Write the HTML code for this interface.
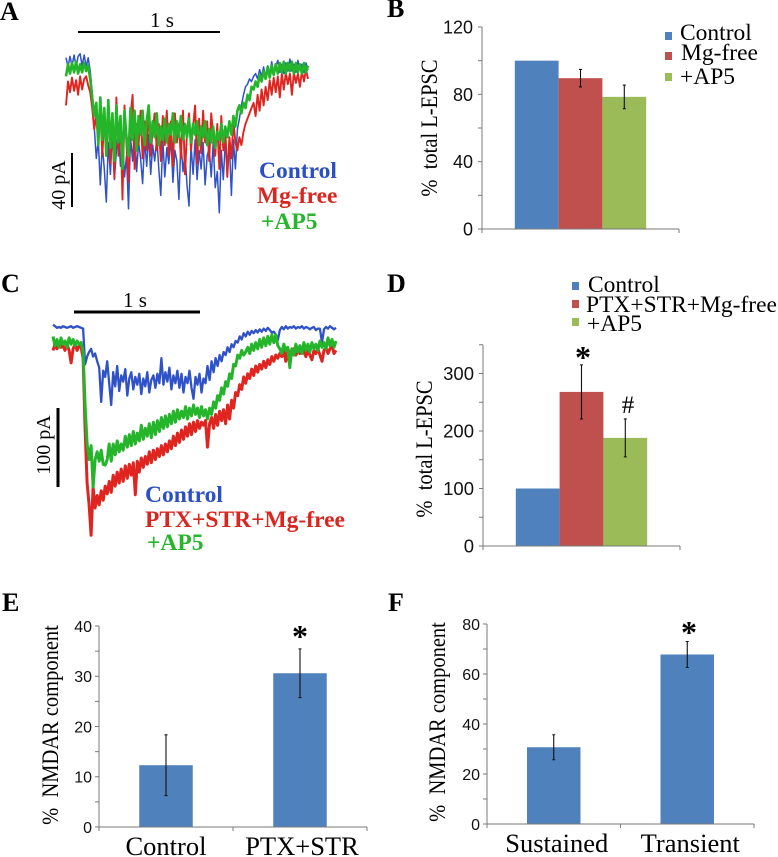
<!DOCTYPE html>
<html lang="en">
<head>
<meta charset="utf-8">
<title>L-EPSC traces and bar charts</title>
<style>
html,body{margin:0;padding:0;background:#fff;width:778px;height:857px;overflow:hidden}
svg{display:block;filter:blur(.35px)}
text{font-family:"Liberation Serif",serif;fill:#000}
.panel{font-weight:bold;font-size:26px}
.tick{font-family:"Liberation Sans",sans-serif;fill:#111}
.tr{font-weight:bold;font-size:23.5px}
.blue{fill:#2c50c4}.red{fill:#d9261f}.green{fill:#27b52c}
.scale{font-size:20px}
.mid{text-anchor:middle}
.star{font-weight:bold}
</style>
</head>
<body>
<svg id="figure" width="778" height="857" viewBox="0 0 778 857" xmlns="http://www.w3.org/2000/svg">
<text class="panel" x="0" y="20">A</text>
<text class="panel" x="387" y="17">B</text>
<text class="panel" x="1" y="292">C</text>
<text class="panel" x="387" y="292">D</text>
<text class="panel" x="2" y="611">E</text>
<text class="panel" x="388" y="611">F</text>

<g id="panel-a"></g>
<line x1="78" x2="220" y1="32" y2="32" stroke="#000" stroke-width="2"/>
<text class="mid" x="162" y="27" font-size="21">1 s</text>
<line x1="72" x2="72" y1="153" y2="207" stroke="#000" stroke-width="2"/>
<text class="scale mid" transform="translate(65 185) rotate(-90)" font-size="20.5">40 pA</text>
<text class="tr blue" x="259" y="178">Control</text>
<text class="tr red" x="257" y="203">Mg-free</text>
<text class="tr green" x="261" y="229">+AP5</text>

<g id="panel-c"></g>
<line x1="74" x2="200" y1="312" y2="312" stroke="#000" stroke-width="3"/>
<text class="mid" x="135" y="307" font-size="21">1 s</text>
<line x1="58" x2="58" y1="408" y2="487" stroke="#000" stroke-width="3"/>
<text class="scale mid" transform="translate(50 445) rotate(-90)">100 pA</text>
<text class="tr blue" x="145" y="502">Control</text>
<text class="tr red" x="145" y="527">PTX+STR+Mg-free</text>
<text class="tr green" x="147" y="550">+AP5</text>

<g id="chart-b"></g>
<g id="chart-d"></g>
<g id="chart-e"></g>
<g id="chart-f"></g>

<text class="mid" transform="translate(437 128) rotate(-90) scale(1 1.12)" font-size="20.5">% &#160;total L-EPSC</text>
<text class="mid" transform="translate(432 449) rotate(-90) scale(1 1.12)" font-size="20.5">% &#160;total L-EPSC</text>
<text class="mid" transform="translate(58 725) rotate(-90) scale(1 1.12)" font-size="20.5">% &#160;NMDAR component</text>
<text class="mid" transform="translate(445 722) rotate(-90) scale(1 1.12)" font-size="20.5">% &#160;NMDAR component</text>

<text class="mid star" x="583" y="368" font-size="32">*</text>
<text class="mid" x="628" y="413" font-size="25">#</text>
<text class="mid star" x="300" y="647" font-size="32">*</text>
<text class="mid star" x="689" y="643" font-size="32">*</text>
</svg>

<script>
// Panel A traces, pA relative to the control baseline
const aControl = [4,-3,5,-2,6,-3,5,7,-2,6,-3,4,-6,-22,-48,-72,-58,-92,-62,-80,-105,-60,-84,-52,-88,-66,-50,-78,-58,-86,-70,-110,-56,-74,-46,-82,-60,-72,-91,-58,-78,-54,-84,-62,-74,-56,-80,-100,-58,-86,-64,-76,-56,-90,-66,-74,-103,-60,-82,-68,-92,-108,-62,-84,-58,-88,-66,-80,-60,-92,-70,-64,-86,-60,-94,-82,-113,-66,-88,-60,-78,-62,-100,-58,-80,-50,-42,-32,-24,-18,-16,-12,-14,-10,-8,-12,-5,-10,-3,-11,-2,-9,1,-8,-3,2,-7,-1,-8,0,-6,3,-6,-1,-7,2,-5,-1,-7,0,-5];
const aMgFree = [-32,-14,-22,-11,-21,-13,-24,-10,-20,-12,-10,-17,-22,-34,-50,-40,-60,-34,-70,-42,-66,-30,-76,-48,-87,-26,-70,-45,-103,-32,-62,-90,-40,-24,-80,-46,-62,-36,-72,-44,-66,-34,-70,-50,-38,-66,-46,-74,-40,-62,-36,-70,-44,-78,-38,-60,-46,-72,-36,-84,-52,-38,-66,-48,-32,-76,-42,-68,-36,-60,-44,-74,-38,-54,-70,-46,-80,-40,-66,-50,-86,-56,-72,-44,-60,-66,-56,-62,-52,-46,-42,-38,-34,-30,-40,-24,-36,-20,-32,-18,-28,-13,-24,-11,-22,-10,-26,-8,-20,-7,-16,-8,-24,-7,-15,-8,-18,-6,-14,-5,-12];
const aAp5 = [-10,-1,-8,0,-7,1,-8,-1,-7,0,-6,-2,-12,-26,-40,-30,-62,-26,-58,-34,-70,-28,-64,-38,-74,-32,-60,-40,-80,-36,-56,-70,-34,-58,-36,-66,-40,-54,-36,-62,-44,-32,-60,-44,-56,-38,-62,-48,-58,-42,-60,-46,-54,-38,-60,-44,-56,-40,-58,-46,-56,-42,-60,-46,-54,-44,-62,-48,-56,-44,-62,-50,-60,-48,-64,-52,-58,-46,-60,-48,-56,-44,-54,-40,-48,-36,-32,-38,-30,-34,-24,-28,-18,-20,-14,-18,-9,-14,-6,-12,-3,-11,-2,-9,-1,-8,0,-7,1,-8,0,-6,1,-8,0,-7,-1,-8,0,-7,-2];

// Panel C traces, pA relative to the control baseline
const cControl = [3,1,-1,0,-1,1,0,-1,0,1,-1,0,1,0,-1,-2,-48,-38,-32,-28,-38,-34,-44,-52,-96,-56,-64,-44,-72,-100,-58,-76,-50,-82,-62,-70,-54,-88,-66,-58,-80,-64,-74,-60,-86,-66,-76,-58,-84,-68,-62,-78,-60,-72,-40,-74,-58,-70,-52,-80,-62,-72,-56,-78,-60,-84,-64,-72,-56,-78,-92,-64,-74,-60,-84,-66,-72,-50,-68,-44,-58,-40,-50,-36,-44,-32,-36,-26,-32,-22,-26,-18,-20,-12,-16,-8,-12,-6,-10,-5,-8,-4,-7,-3,-6,-2,-5,-1,-4,-7,-6,-10,-17,-4,0,-3,1,-2,0,-1,1,-2,0,-1,1,-2,0,-1,-3,-1,0,-4,-2,-2,-20,-3,0,-2,1,-1,-3,-1];
const cPtxMgFree = [-30,-22,-28,-20,-26,-24,-30,-22,-30,-46,-28,-22,-30,-24,-26,-40,-130,-200,-228,-267,-205,-232,-216,-228,-210,-222,-204,-214,-198,-212,-190,-204,-186,-200,-182,-198,-178,-194,-176,-190,-174,-215,-172,-186,-168,-180,-166,-176,-160,-174,-158,-170,-156,-166,-152,-164,-150,-160,-146,-156,-140,-152,-136,-148,-132,-144,-128,-140,-124,-138,-122,-134,-120,-130,-122,-126,-120,-154,-124,-116,-130,-112,-126,-108,-120,-106,-124,-100,-118,-94,-104,-84,-88,-74,-80,-64,-72,-60,-66,-54,-62,-50,-58,-48,-54,-44,-52,-42,-48,-38,-44,-36,-40,-34,-38,-30,-44,-28,-34,-32,-28,-36,-30,-34,-28,-32,-38,-30,-36,-42,-30,-34,-28,-36,-44,-30,-26,-34,-28,-24,-34,-30];
const cAp5 = [-12,-24,-16,-26,-14,-22,-18,-26,-14,-22,-16,-24,-18,-22,-20,-32,-100,-150,-170,-152,-205,-170,-160,-172,-158,-176,-177,-170,-150,-172,-150,-164,-146,-160,-150,-158,-140,-154,-138,-152,-134,-150,-136,-146,-126,-144,-130,-140,-124,-142,-122,-138,-120,-134,-116,-130,-114,-128,-112,-124,-108,-122,-106,-118,-108,-116,-102,-118,-104,-114,-100,-112,-104,-116,-102,-114,-106,-118,-104,-112,-96,-104,-88,-94,-78,-86,-70,-76,-60,-66,-48,-50,-36,-40,-30,-36,-32,-26,-34,-22,-30,-20,-28,-16,-26,-14,-24,-12,-22,-10,-20,-10,-24,-28,-34,-22,-30,-26,-52,-28,-36,-22,-32,-24,-34,-20,-30,-22,-32,-20,-28,-22,-30,-18,-26,-20,-28,-14,-24,-16,-26,-18];

// Chart B
const bSeries = ['Control','Mg-free','+AP5'];
const bValues = [100,89.6,78.5];
const bErrors = [0,5.2,7];
const bLabelTicks = [0,40,80,120];
const bAllTicks = [0,20,40,60,80,100,120];

// Chart D
const dSeries = ['Control','PTX+STR+Mg-free','+AP5'];
const dValues = [100,268,188];
const dErrors = [0,47,33];
const dLabelTicks = [0,100,200,300];
const dAllTicks = [0,50,100,150,200,250,300,350];

// Chart E
const eCategories = ['Control','PTX+STR'];
const eValues = [12.3,30.6];
const eErrors = [6.05,4.85];
const eLabelTicks = [0,10,20,30,40];
const eAllTicks = [0,5,10,15,20,25,30,35,40];

// Chart F
const fCategories = ['Sustained','Transient'];
const fValues = [30.7,67.8];
const fErrors = [5,5.2];
const fLabelTicks = [0,20,40,60,80];
const fAllTicks = [0,10,20,30,40,50,60,70,80];

const NS = 'http://www.w3.org/2000/svg';
const BAR_COLORS = ['#4f81bd','#c0504d','#9bbb59'];

function make(parent, tag, attrs, txt) {
  const el = document.createElementNS(NS, tag);
  for (const k in attrs) el.setAttribute(k, attrs[k]);
  if (txt !== undefined) el.textContent = txt;
  parent.appendChild(el);
  return el;
}

function drawTrace(parent, values, x0, x1, zeroY, pxPerPa, color, width, name) {
  const xOf = i => x0 + i / (values.length - 1) * (x1 - x0);
  const yOf = v => zeroY - v * pxPerPa;
  const d = values.map((v, i) => (i ? 'L' : 'M') + xOf(i).toFixed(1) + ' ' + yOf(v).toFixed(1)).join('');
  const p = make(parent, 'path', {d: d, fill: 'none', stroke: color, 'stroke-width': width, 'stroke-linejoin': 'round'});
  
  
}

const panelA = document.getElementById('panel-a');
drawTrace(panelA, aControl, 66, 308, 63, 1.325, '#2f52c8', 1.5, 'trace-control-a');
drawTrace(panelA, aMgFree, 66, 308, 63, 1.325, '#e0241f', 1.9, 'trace-mg-free-a');
drawTrace(panelA, aAp5, 66, 308, 63, 1.325, '#25b52b', 2.6, 'trace-ap5-a');

const panelC = document.getElementById('panel-c');
drawTrace(panelC, cControl, 53, 336, 327, 0.78, '#2f52c8', 2.3, 'trace-control-c');
drawTrace(panelC, cPtxMgFree, 53, 336, 327, 0.78, '#e0241f', 3, 'trace-ptx-c');
drawTrace(panelC, cAp5, 53, 336, 327, 0.78, '#25b52b', 3, 'trace-ap5-c');

function drawChart(o) {
  const g = document.getElementById(o.id);
  const y = v => o.y0 - v * (o.y0 - o.yTop) / o.max;
  const band = (o.x1 - o.x0) / o.groups;
  const barX = (group, series) => o.x0 + band * (group + .5) + (series - o.seriesCount / 2) * o.barW;

  o.values.forEach((v, i) => {
    const group = o.seriesCount > 1 ? 0 : i;
    const series = o.seriesCount > 1 ? i : 0;
    const left = barX(group, series);
    const color = o.seriesCount > 1 ? BAR_COLORS[i] : BAR_COLORS[0];
    const bar = make(g, 'rect', {x: left, y: y(v), width: o.barW, height: o.y0 - y(v), fill: color});
    
    
  });

  const axisY = make(g, 'line', {x1: o.x0, x2: o.x0, y1: y(o.max), y2: o.y0, stroke: '#7a7a7a', 'stroke-width': 1});
  
  
  const axisX = make(g, 'line', {x1: o.x0 - 4, x2: o.x1, y1: o.y0, y2: o.y0, stroke: '#7a7a7a', 'stroke-width': 1});
  
  

  o.allTicks.forEach(t => {
    const tick = make(g, 'line', {x1: o.x0 - 4, x2: o.x0, y1: y(t), y2: y(t), stroke: '#7a7a7a', 'stroke-width': 1});
    
    
  });
  o.labelTicks.forEach(t => {
    const lab = make(g, 'text', {class: 'tick', x: o.x0 - o.labelGap, y: y(t) + o.fs * .36, 'text-anchor': 'end', 'font-size': o.fs}, String(t));
    
    
  });
  for (let i = 0; i <= o.groups; i++) {
    const tick = make(g, 'line', {x1: o.x0 + band * i, x2: o.x0 + band * i, y1: o.y0, y2: o.y0 + 4, stroke: '#7a7a7a', 'stroke-width': 1});
    
    
  }

  o.values.forEach((v, i) => {
    if (!o.errors[i]) return;
    const group = o.seriesCount > 1 ? 0 : i;
    const series = o.seriesCount > 1 ? i : 0;
    const cx = barX(group, series) + o.barW / 2;
    const err = make(g, 'path', {
      d: 'M' + cx + ' ' + y(v + o.errors[i]) + 'V' + y(v - o.errors[i]) +
         'M' + (cx - 1.5) + ' ' + y(v + o.errors[i]) + 'h3M' + (cx - 1.5) + ' ' + y(v - o.errors[i]) + 'h3',
      fill: 'none', stroke: '#111', 'stroke-width': 1.1
    });
    
    
  });

  if (o.categories) {
    o.categories.forEach((c, i) => {
      const lab = make(g, 'text', {x: o.x0 + band * (i + .5) + o.catShift[i], y: o.catY, 'text-anchor': 'middle', 'font-size': 26.5}, c);
      
      
    });
  }

  if (o.legend) {
    o.legend.forEach((name, i) => {
      const L = o.legendPos[i];
      const sw = make(g, 'rect', {x: L[0], y: L[1], width: 7, height: 8, fill: BAR_COLORS[i]});
      
      
      const t = make(g, 'text', {x: L[2], y: L[3], 'font-size': 23.5}, name);
      
      
    });
  }
}

drawChart({id:'chart-b', key:'b', x0:482, x1:679, y0:229, yTop:27, max:120, groups:1, seriesCount:3, barW:43.8,
  values:bValues, errors:bErrors, allTicks:bAllTicks, labelTicks:bLabelTicks, fs:18, labelGap:9,
  legend:bSeries, legendPos:[[665,32,680,40],[665,52,681,60],[665,73,680,84]]});
drawChart({id:'chart-d', key:'d', x0:483, x1:680, y0:546, yTop:344.75, max:350, groups:1, seriesCount:3, barW:43.8,
  values:dValues, errors:dErrors, allTicks:dAllTicks, labelTicks:dLabelTicks, fs:18.5, labelGap:9,
  legend:dSeries, legendPos:[[572,282,588,292],[572,300,586,312],[572,318,587,331]]});
drawChart({id:'chart-e', key:'e', x0:99, x1:367, y0:827, yTop:626, max:40, groups:2, seriesCount:1, barW:53.5,
  values:eValues, errors:eErrors, allTicks:eAllTicks, labelTicks:eLabelTicks, fs:16, labelGap:7,
  categories:eCategories, catShift:[0,2], catY:855});
drawChart({id:'chart-f', key:'f', x0:487, x1:754, y0:824, yTop:624, max:80, groups:2, seriesCount:1, barW:53.5,
  values:fValues, errors:fErrors, allTicks:fAllTicks, labelTicks:fLabelTicks, fs:16, labelGap:7,
  categories:fCategories, catShift:[3,3], catY:852});
</script>
</body>
</html>
